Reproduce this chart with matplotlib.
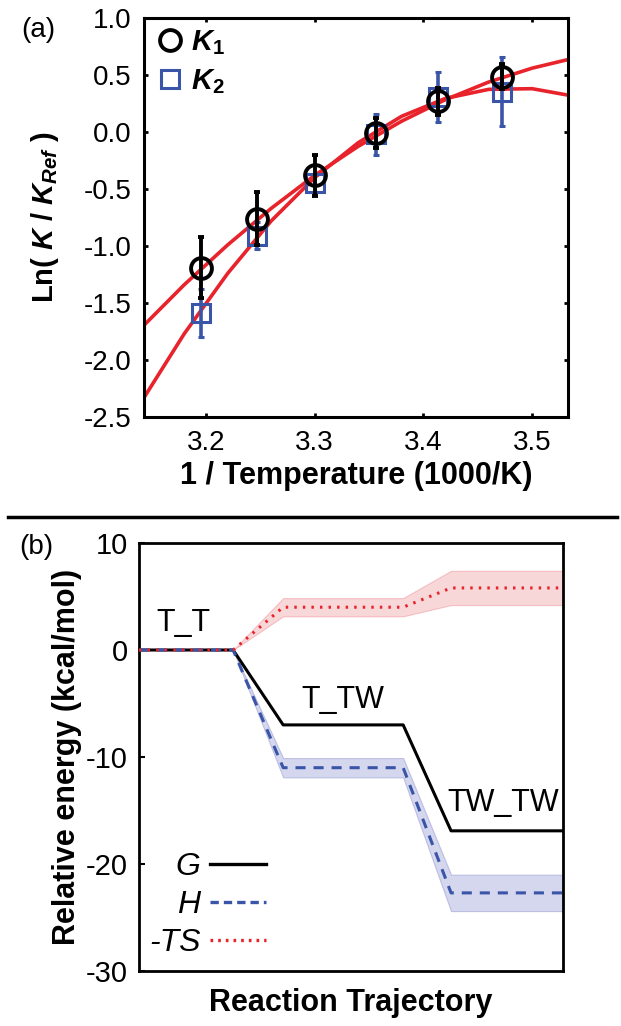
import numpy as np
import matplotlib
matplotlib.use("Agg")
import matplotlib.pyplot as plt
from matplotlib.lines import Line2D

plt.rcParams['font.family'] = ['Liberation Sans', 'DejaVu Sans']
plt.rcParams['axes.unicode_minus'] = False
plt.rcParams['mathtext.fontset'] = 'custom'
plt.rcParams['mathtext.it'] = 'Liberation Sans:italic:bold'
plt.rcParams['mathtext.rm'] = 'Liberation Sans:bold'
plt.rcParams['mathtext.bf'] = 'Liberation Sans:bold'

# ---------------- Panel (a) data ----------------
inv_T = [3.195, 3.247, 3.300, 3.356, 3.413, 3.472]
lnK1 = [-1.19, -0.76, -0.38, -0.01, 0.27, 0.485]
lnK1_err = [0.27, 0.23, 0.18, 0.13, 0.12, 0.11]
lnK2 = [-1.59, -0.91, -0.445, -0.02, 0.31, 0.355]
lnK2_err = [0.21, 0.12, 0.08, 0.18, 0.22, 0.30]

fit_x = [3.143, 3.18, 3.22, 3.26, 3.30, 3.34, 3.38, 3.42, 3.46, 3.50, 3.535]
fit_K1 = [-1.695, -1.34, -0.99, -0.67, -0.38, -0.126, 0.095, 0.283, 0.438, 0.56, 0.64]
fit_K2 = [-2.33, -1.77, -1.24, -0.78, -0.40, -0.094, 0.138, 0.294, 0.374, 0.38, 0.32]

a_xticks = [3.2, 3.3, 3.4, 3.5]
a_yticks = [-2.5, -2.0, -1.5, -1.0, -0.5, 0.0, 0.5, 1.0]

# ---------------- Panel (b) data ----------------
traj_x = [0.0, 0.222, 0.34, 0.623, 0.736, 1.0]
G_vals = [0, 0, -7.0, -7.0, -16.9, -16.9]
H_vals = [0, 0, -11.0, -11.0, -22.7, -22.7]
H_err = [0, 0, 0.9, 0.9, 1.7, 1.7]
TS_vals = [0, 0, 4.0, 4.0, 5.8, 5.8]
TS_err = [0, 0, 0.85, 0.85, 1.6, 1.6]
b_yticks = [-30, -20, -10, 0, 10]
state_labels = ["T_T", "T_TW", "TW_TW"]

W, H = 621, 1026
fig = plt.figure(figsize=(W / 100, H / 100), dpi=100)

def frac(x0, y0, x1, y1):
    return [x0 / W, 1 - y1 / H, (x1 - x0) / W, (y1 - y0) / H]

red = '#e8232b'
blue = '#3a55a8'

# ---------------- Panel (a) ----------------
ax1 = fig.add_axes(frac(144, 18, 568, 417))
ax1.plot(fit_x, fit_K1, color=red, lw=2.6, zorder=2)
ax1.plot(fit_x, fit_K2, color=red, lw=2.6, zorder=2)
ax1.errorbar(inv_T, lnK2, yerr=lnK2_err, fmt='s', ms=13, mfc='none', mec=blue,
             mew=2.2, ecolor=blue, elinewidth=2.6, capsize=2, capthick=2, zorder=3)
ax1.errorbar(inv_T, lnK1, yerr=lnK1_err, fmt='o', ms=15, mfc='none', mec='black',
             mew=2.8, ecolor='black', elinewidth=2.8, capsize=2, capthick=2, zorder=4)
ax1.set_xlim(3.143, 3.533)
ax1.set_ylim(-2.5, 1.0)
ax1.set_xticks(a_xticks)
ax1.set_xticklabels([f"{v:.1f}" for v in a_xticks])
ax1.set_yticks(a_yticks)
ax1.set_yticklabels([f"{v:.1f}" for v in a_yticks])
ax1.tick_params(direction='in', length=3, width=2, labelsize=20, top=True, right=True, pad=9)
for s in ax1.spines.values():
    s.set_linewidth(2.2)
ax1.set_xlabel('1 / Temperature (1000/K)', fontsize=22, fontweight='bold', labelpad=4)
ax1.set_ylabel(r'Ln( $K$ / $K_{Ref}$ )', fontsize=21, fontweight='bold', labelpad=16)

h1 = Line2D([], [], marker='o', ls='none', ms=15, mfc='none', mec='black', mew=2.8)
h2 = Line2D([], [], marker='s', ls='none', ms=13, mfc='none', mec=blue, mew=2.2)
ax1.legend([h1, h2], [r'$K_1$', r'$K_2$'], loc='upper left',
           bbox_to_anchor=(157 / W, 1 - 28 / H), bbox_transform=fig.transFigure,
           frameon=False, fontsize=21, handlelength=0.9, handletextpad=0.25,
           labelspacing=0.35, borderpad=0, borderaxespad=0)

fig.text(38 / W, 1 - 30 / H, '(a)', fontsize=20, ha='center', va='center')

# divider
fig.add_artist(Line2D([8 / W, 617 / W], [1 - 517 / H, 1 - 517 / H], color='black', lw=2.5))

# ---------------- Panel (b) ----------------
ax2 = fig.add_axes(frac(139, 543, 563, 971))
ax2.fill_between(traj_x, np.array(TS_vals) - np.array(TS_err), np.array(TS_vals) + np.array(TS_err),
                 color='#f4b6bb', alpha=0.55, lw=0.8, edgecolor='#f09aa2', zorder=1)
ax2.fill_between(traj_x, np.array(H_vals) - np.array(H_err), np.array(H_vals) + np.array(H_err),
                 color='#c3c6e6', alpha=0.7, lw=0.8, edgecolor='#a9addb', zorder=1)
ax2.plot(traj_x, G_vals, color='black', lw=2.2, zorder=3)
ax2.plot(traj_x, H_vals, color=blue, lw=2.2, ls=(0, (3.3, 2.6)), zorder=4)
ax2.plot(traj_x, TS_vals, color=red, lw=2.2, ls=(0, (0.8, 2.0)), zorder=5)
ax2.set_xlim(0, 1)
ax2.set_ylim(-30, 10)
ax2.set_xticks([])
ax2.set_yticks(b_yticks)
ax2.set_yticklabels([str(v) for v in b_yticks])
ax2.tick_params(axis='y', direction='in', length=4, width=1.5, labelsize=21, pad=8)
for s in ax2.spines.values():
    s.set_linewidth(2.0)
ax2.set_xlabel('Reaction Trajectory', fontsize=22, fontweight='bold', labelpad=12)
ax2.set_ylabel('Relative energy (kcal/mol)', fontsize=22, fontweight='bold', labelpad=3)

ax2.text(0.105, 2.5, state_labels[0], fontsize=22, ha='center', va='center')
ax2.text(0.48, -4.7, state_labels[1], fontsize=22, ha='center', va='center')
ax2.text(0.86, -14.3, state_labels[2], fontsize=22, ha='center', va='center')

lh = [Line2D([], [], color='black', lw=2.4),
      Line2D([], [], color=blue, lw=2.4, ls=(0, (2.5, 1.5))),
      Line2D([], [], color=red, lw=2.4, ls=(0, (0.8, 1.5)))]
ax2.legend(lh, ['G', 'H', '-TS'], loc='center right', markerfirst=False,
           bbox_to_anchor=(266 / W, 1 - 905 / H), bbox_transform=fig.transFigure,
           frameon=False, prop={'size': 23, 'style': 'italic'}, handlelength=1.75,
           handletextpad=0.3, labelspacing=0.25, borderpad=0, borderaxespad=0)

fig.text(36 / W, 1 - 547 / H, '(b)', fontsize=20, ha='center', va='center')

fig.savefig('out.png', dpi=100)
